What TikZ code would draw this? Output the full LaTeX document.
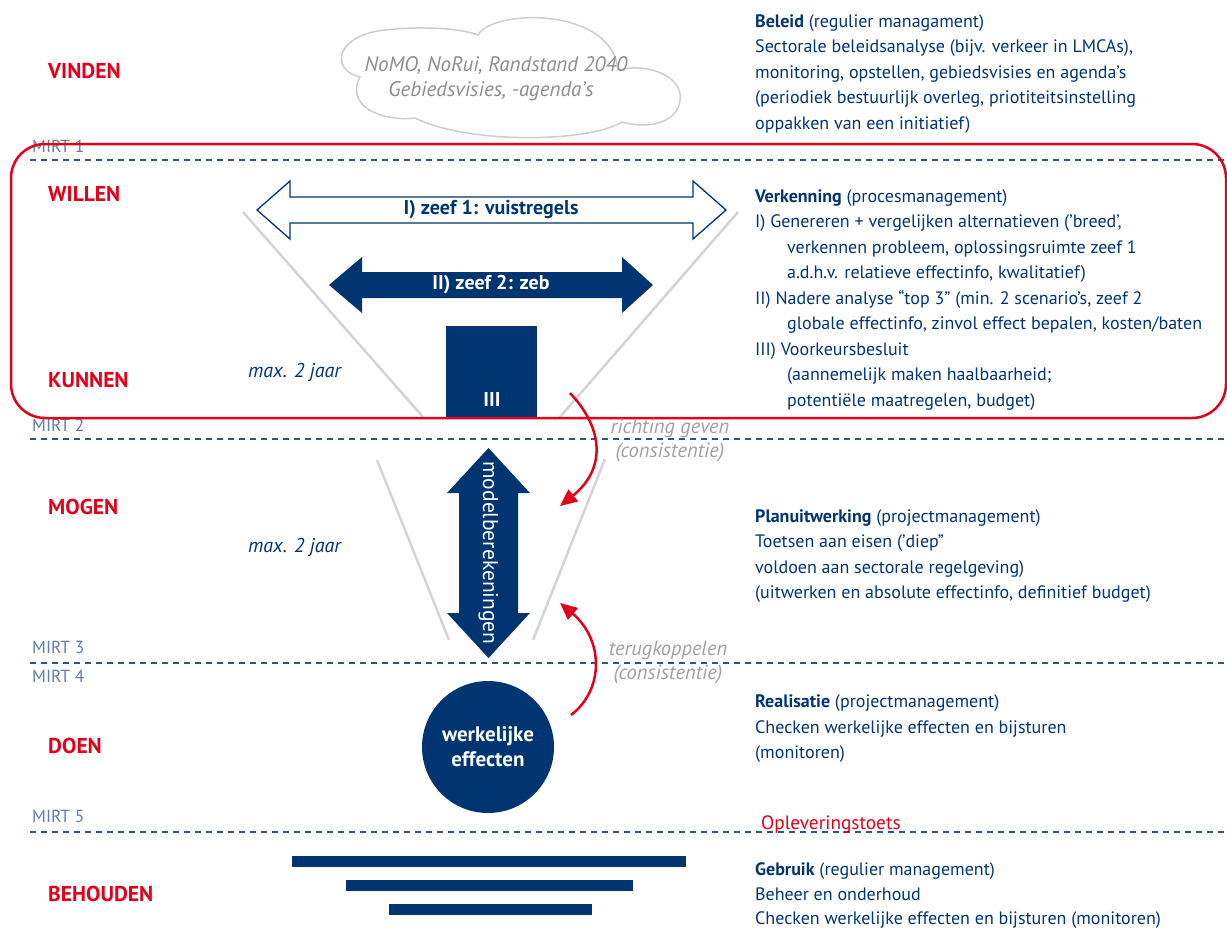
\documentclass[tikz,border=0pt]{standalone}
\usepackage{fontspec}
\setmainfont{PT Sans}
\usetikzlibrary{arrows.meta}
\definecolor{navy}{RGB}{0,53,113}
\definecolor{mred}{RGB}{226,0,26}
\definecolor{mirtc}{RGB}{95,125,165}
\definecolor{dashc}{RGB}{45,85,140}
\definecolor{funnelc}{RGB}{212,212,212}
\definecolor{grayt}{RGB}{160,160,160}
\definecolor{cloudc}{RGB}{205,205,205}
\definecolor{cloudt}{RGB}{140,140,140}
\tikzset{
  body/.style={anchor=base west, inner sep=0pt, text=navy, font=\fontsize{18}{21}\selectfont},
  phase/.style={anchor=base west, inner sep=0pt, text=mred, font=\fontsize{21.5}{24}\selectfont\bfseries},
  mirt/.style={anchor=base west, inner sep=0pt, text=mirtc, font=\fontsize{17.5}{20}\selectfont},
  mirtline/.style={dashc, line width=1.3pt, dash pattern=on 6pt off 5pt},
  funnel/.style={funnelc, line width=2.5pt},
  grayit/.style={anchor=base, inner sep=0pt, text=grayt, font=\fontsize{20.5}{23}\selectfont\itshape},
  maxj/.style={anchor=base west, inner sep=0pt, text=navy, font=\fontsize{20}{23}\selectfont\itshape},
  redarrow/.style={mred, line width=2.5pt, -{Triangle[length=17pt,width=15pt]}},
  wlabel/.style={inner sep=0pt, text=white, font=\fontsize{20}{24}\selectfont\bfseries},
  bar/.style={fill=navy, draw=none}
}
\begin{document}
\begin{tikzpicture}[x=1pt,y=-1pt]
\useasboundingbox (0,0) rectangle (1227,927);

% cloud
\draw[cloudc, line width=1.5pt] (360,77) .. controls (330,70) and (335,35) .. (385,30)
  .. controls (420,26) and (460,28) .. (478,35)
  .. controls (492,9) and (612,6) .. (618,70)
  .. controls (650,62) and (684,78) .. (680,100)
  .. controls (678,122) and (650,130) .. (622,122)
  .. controls (590,142) and (470,145) .. (415,118)
  .. controls (380,122) and (345,105) .. (360,77) -- cycle;
\node[anchor=base, inner sep=0pt, text=cloudt, font=\fontsize{21}{24}\selectfont\itshape] (cl1) at (496,71) {NoMO, NoRui, Randstand 2040};
\node[anchor=base, inner sep=0pt, text=cloudt, font=\fontsize{21}{24}\selectfont\itshape] (cl2) at (491,96) {Gebiedsvisies, -agenda’s};

% MIRT dashed lines and labels
\draw[mirtline] (30,160) -- (1227,160);
\draw[mirtline] (30,439) -- (1227,439);
\draw[mirtline] (30,663) -- (1227,663);
\draw[mirtline] (30,832) -- (1227,832);
\node[mirt] (m1) at (32,152) {MIRT 1};
\node[mirt] (m2) at (32,431) {MIRT 2};
\node[mirt] (m3) at (32,653) {MIRT 3};
\node[mirt] (m4) at (32,682) {MIRT 4};
\node[mirt] (m5) at (32,822) {MIRT 5};

% phase labels
\node[phase] (p1) at (48,78) {VINDEN};
\node[phase] (p2) at (48,201) {WILLEN};
\node[phase] (p3) at (48,387) {KUNNEN};
\node[phase] (p4) at (48,514) {MOGEN};
\node[phase] (p5) at (48,753) {DOEN};
\node[phase] (p6) at (48,901) {BEHOUDEN};

% funnel lines
\draw[funnel] (243,212) -- (423,417);
\draw[funnel] (738,212) -- (560,417);
\draw[funnel] (377,460) -- (449,640);
\draw[funnel] (605,459) -- (533,640);

% zeef 1 outline arrow
\draw[navy, line width=1.3pt, fill=white] (257,210) -- (290,181) -- (290,197) -- (693,197) -- (693,181) -- (726,210) -- (693,239) -- (693,223) -- (290,223) -- (290,239) -- cycle;
\node[inner sep=0pt, text=navy, font=\fontsize{20}{24}\selectfont\bfseries] (z1) at (491,210) {I) zeef 1: vuistregels};

% zeef 2 filled arrow
\fill[navy] (329,285) -- (362,257) -- (362,272) -- (622,272) -- (622,257) -- (653,285) -- (622,313) -- (622,298) -- (362,298) -- (362,313) -- cycle;
\node[wlabel] (z2) at (491,285) {II) zeef 2: zeb};

% box III
\node[fill=navy, minimum width=91pt, minimum height=91pt, inner sep=0pt] (box3) at (491.5,371.5) {};
\node[wlabel, anchor=base] (t3) at (492,406) {III};

% max 2 jaar
\node[maxj] (mx1) at (248,377) {max. 2 jaar};
\node[maxj] (mx2) at (248,552) {max. 2 jaar};

% red box
\draw[mred, line width=2.5pt, rounded corners=34pt] (11,144) rectangle (1226,418);

% vertical arrow
\fill[navy] (488.5,448) -- (530,493) -- (518,493) -- (518,613) -- (530,613) -- (488.5,658) -- (447,613) -- (459,613) -- (459,493) -- (447,493) -- cycle;
\node[inner sep=0pt, text=white, rotate=-90, font=\fontsize{21.5}{24}\selectfont] (mb) at (488.5,553) {modelberekeningen};

% circle
\node[circle, fill=navy, minimum size=132pt, inner sep=0pt, text=white, align=center, font=\fontsize{21}{25}\selectfont\bfseries] (circ) at (488,747) {werkelijke\\effecten};

% red curved arrows
\coordinate (ra1s) at (570,393);
\coordinate (ra1e) at (560,506);
\coordinate (ra2s) at (571,715);
\coordinate (ra2e) at (560,603);
\draw[redarrow] (ra1s) .. controls (605,430) and (605,470) .. (ra1e);
\draw[redarrow] (ra2s) .. controls (604,690) and (604,640) .. (ra2e);

\node[grayit] (g1) at (670,433) {richting geven};
\node[grayit] (g2) at (670,457) {(consistentie)};
\node[grayit] (g3) at (668,655) {terugkoppelen};
\node[grayit] (g4) at (668,679) {(consistentie)};

% bars
\fill[bar] (292,856) rectangle (686,867);
\fill[bar] (346,880) rectangle (633,891);
\fill[bar] (389,904) rectangle (592,915);

\node[anchor=base west, inner sep=0pt, text=mred, font=\fontsize{19.3}{22}\selectfont] (opl) at (761,829) {Opleveringstoets};

% right texts
\node[body] (b1) at (755,27) {\textbf{Beleid} (regulier managament)};
\node[body] (b2) at (755,52.5) {Sectorale beleidsanalyse (bijv. verkeer in LMCAs),};
\node[body] (b3) at (755,78) {monitoring, opstellen, gebiedsvisies en agenda’s};
\node[body] (b4) at (755,103.5) {(periodiek bestuurlijk overleg, priotiteitsinstelling};
\node[body] (b5) at (755,129) {oppakken van een initiatief)};

\node[body] (v1) at (755,202) {\textbf{Verkenning} (procesmanagement)};
\node[body] (v2) at (755,227.5) {I) Genereren + vergelijken alternatieven (’breed’,};
\node[body] (v3) at (787,253) {verkennen probleem, oplossingsruimte zeef 1};
\node[body] (v4) at (787,278.5) {a.d.h.v. relatieve effectinfo, kwalitatief)};
\node[body] (v5) at (755,304) {II) Nadere analyse “top 3” (min. 2 scenario’s, zeef 2};
\node[body] (v6) at (787,329.5) {globale effectinfo, zinvol effect bepalen, kosten/baten};
\node[body] (v7) at (755,355) {III) Voorkeursbesluit};
\node[body] (v8) at (787,380.5) {(aannemelijk maken haalbaarheid;};
\node[body] (v9) at (787,406) {potentiële maatregelen, budget)};

\node[body] (pl1) at (755,522) {\textbf{Planuitwerking} (projectmanagement)};
\node[body] (pl2) at (755,547.5) {Toetsen aan eisen (’diep”};
\node[body] (pl3) at (755,573) {voldoen aan sectorale regelgeving)};
\node[body] (pl4) at (755,598.5) {(uitwerken en absolute effectinfo, definitief budget)};

\node[body] (r1) at (755,707) {\textbf{Realisatie} (projectmanagement)};
\node[body] (r2) at (755,733) {Checken werkelijke effecten en bijsturen};
\node[body] (r3) at (755,758) {(monitoren)};

\node[body] (u1) at (755,875) {\textbf{Gebruik} (regulier management)};
\node[body] (u2) at (755,900) {Beheer en onderhoud};
\node[body] (u3) at (755,924) {Checken werkelijke effecten en bijsturen (monitoren)};
\end{tikzpicture}
\end{document}
